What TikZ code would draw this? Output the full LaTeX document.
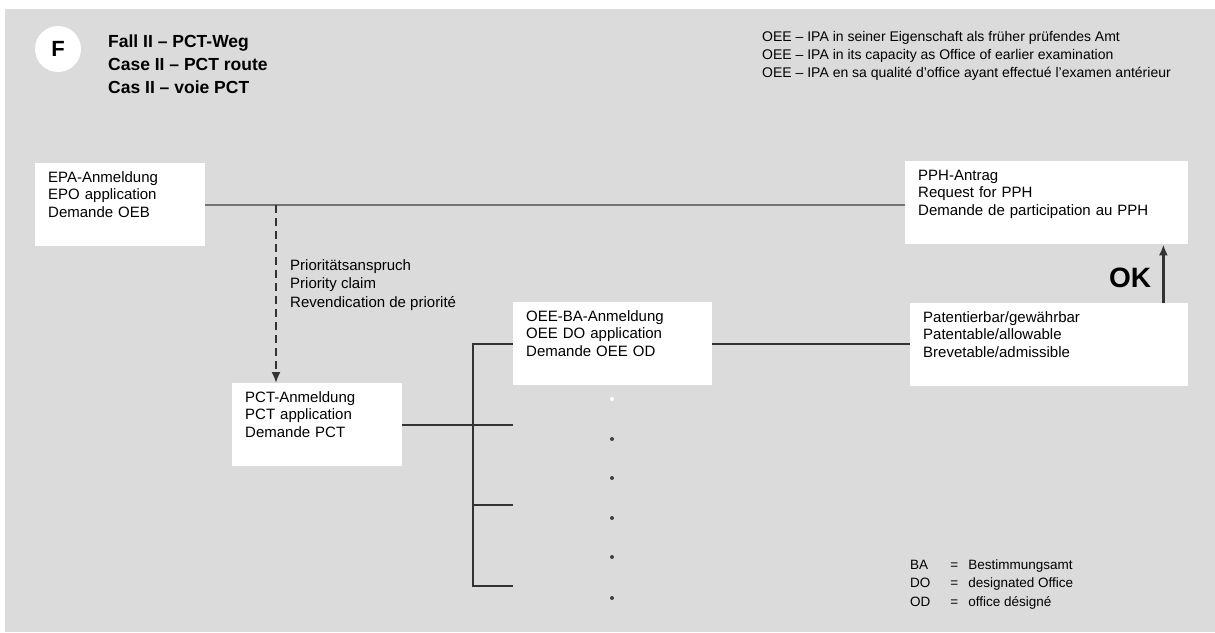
\documentclass[tikz,border=0pt]{standalone}
\usepackage{fontspec}
\setmainfont{Liberation Sans}
\usetikzlibrary{arrows.meta}

\begin{document}
\begin{tikzpicture}[x=1pt,y=-1pt]

    \tikzset{boxstyle/.style={fill=white, anchor=north west, align=left, inner xsep=13pt, inner ysep=8pt,
        text height=11pt, text depth=56pt, font=\fontsize{15}{17.5}\selectfont}}
    \tikzset{textstyle/.style={anchor=north west, align=left, inner sep=0pt}}
    \tikzset{linestyle/.style={draw=black!80, line width=2.2pt}}
    \tikzset{arrowtip/.style={-{Latex[length=11pt,width=9pt]}}}

    \useasboundingbox (0,0) rectangle (1215,632);
    \fill[black!14] (5,9) rectangle (1215,632);

    \node[fill=white, circle, minimum size=46pt, inner sep=0pt, font=\fontsize{22}{22}\selectfont\bfseries] (fcirc) at ( 58, 49) {F};
    \node[textstyle, font=\fontsize{17.5}{23}\selectfont\bfseries] (title) at ( 108, 35) {Fall II – PCT-Weg\\Case II – PCT route\\Cas II – voie PCT};
    \node[textstyle, font=\fontsize{14}{18}\selectfont] (oeenote) at ( 762, 31) {OEE – IPA in seiner Eigenschaft als früher prüfendes Amt\\OEE – IPA in its capacity as Office of earlier examination\\OEE – IPA en sa qualité d'office ayant effectué l'examen antérieur};

    \node[boxstyle, text width=144pt] (epa) at ( 35, 163) {EPA-Anmeldung\\EPO application\\Demande OEB};
    \node[boxstyle, text width=257pt] (pph) at ( 905, 161) {PPH-Antrag\\Request for PPH\\Demande de participation au PPH};
    \node[boxstyle, text width=144pt] (pct) at ( 232, 383) {PCT-Anmeldung\\PCT application\\Demande PCT};
    \node[boxstyle, text width=173pt] (oeebox) at ( 513, 302) {OEE-BA-Anmeldung\\OEE DO application\\Demande OEE OD};
    \node[boxstyle, text width=252pt] (patent) at ( 910, 303) {Patentierbar/gewährbar\\Patentable/allowable\\Brevetable/admissible};

    \node[textstyle, font=\fontsize{15}{18.5}\selectfont] (prio) at ( 290, 259) {Prioritätsanspruch\\Priority claim\\Revendication de priorité};
    \node[font=\fontsize{28}{28}\selectfont\bfseries] (ok) at ( 1130, 278) {OK};

    \node[textstyle, font=\fontsize{13.5}{18.5}\selectfont] (legende) at ( 910, 556) {\begin{tabular}{@{}l@{\hspace{20pt}}c@{\hspace{10pt}}l@{}}
        BA & = & Bestimmungsamt\\
        DO & = & designated Office\\
        OD & = & office désigné
    \end{tabular}};

    \coordinate (prioabzweig) at ( 276, 205);
    \coordinate (b3) at ( 473, 505);
    \coordinate (b4) at ( 473, 586);
    \coordinate (e3) at ( 513, 505);
    \coordinate (e4) at ( 513, 586);

    \begin{scope}[every path/.style={-}]
        \draw[black!55, line width=1.6pt] (epa.east) -- (epa.east -| pph.west);
        \draw[linestyle] (oeebox.east) -- (oeebox.east -| patent.west);
        \draw[linestyle] (oeebox.west) -| (b4) -- (e4);
        \draw[linestyle] (pct.east) -- (pct.east -| oeebox.west);
        \draw[linestyle] (b3) -- (e3);
    \end{scope}

    \draw[black!80, line width=1.8pt, dash pattern=on 8pt off 5pt, arrowtip] (prioabzweig) -- (pct.north -| prioabzweig);
    \draw[linestyle, arrowtip] ([xshift=-25pt]patent.north east) -- ([xshift=-25pt]pph.south east);

    % Punkte
    \fill[white] (612, 399) circle (2pt);
    \foreach \y in {439, 478, 518, 557, 598}
        \fill[black!75] (612, \y) circle (2pt);

\end{tikzpicture}
\end{document}
